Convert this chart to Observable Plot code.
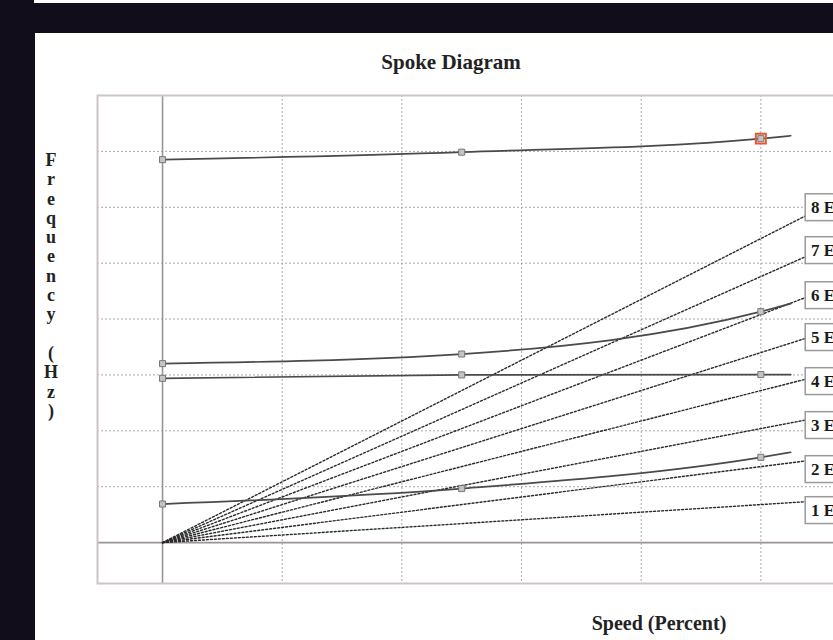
<!DOCTYPE html>
<html><head><meta charset="utf-8">
<script src="https://cdn.jsdelivr.net/npm/d3@7"></script>
<script src="https://cdn.jsdelivr.net/npm/@observablehq/plot@0.6"></script>
<style>
html,body{margin:0;padding:0;overflow:hidden;width:833px;height:640px;background:#120d1a;}
#topstrip{position:absolute;left:34px;top:0;width:799px;height:3px;background:#fff;}
#panel{position:absolute;left:35px;top:33px;width:900px;height:620px;background:#fff;overflow:hidden;}
#chart{position:absolute;left:0;top:0;}
.lbl{position:absolute;font-family:"Liberation Serif",serif;font-weight:bold;color:#222;text-align:center;white-space:nowrap;}
#title{left:0;width:902px;top:50px;height:24px;line-height:24px;font-size:21px;}
#xlabel{left:459px;width:400px;top:611px;height:24px;line-height:24px;font-size:20px;}
#ylabel{left:36px;width:30px;top:151px;font-size:18px;}
#ylabel div{height:19.3px;line-height:19.3px;}
</style>
</head><body>
<div id="topstrip"></div>
<div id="panel"><div id="chart"></div></div>
<div id="title" class="lbl">Spoke Diagram</div>
<div id="xlabel" class="lbl">Speed (Percent)</div>
<div id="ylabel" class="lbl"></div>
<script>
// ---- data ----
const speedPct = [0, 50, 100, 105];           // speed points of the mode curves
const modeA = [342.6, 349.3, 361.4, 364.0];   // Hz
const modeB = [160.1, 168.7, 206.6, 213.8];
const modeC = [147.0, 150.0, 150.3, 150.3];
const modeD = [34.5, 48.3, 76.3, 80.8];
const markerMaxSpeed = 100;                   // markers drawn at 0, 50, 100 %
const highlightMode = "A";
const highlightSpeed = 100;

const orders = [1, 2, 3, 4, 5, 6, 7, 8];
const orderHzAt100 = [34, 68, 102, 136, 170, 204, 238, 272];
const orderLabels = ["1 E", "2 E", "3 E", "4 E", "5 E", "6 E", "7 E", "8 E"];
const labelHz = [28.6, 65.3, 104.7, 144.0, 183.4, 220.9, 261.2, 299.6];
const spokeEndSpeed = 107.5;

const xGrid = [20, 40, 60, 80, 100, 120];
const yGrid = [50, 100, 150, 200, 250, 300, 350];
const yLabelText = "Frequency (Hz)";

// ---- build tables ----
const modeSeries = {A: modeA, B: modeB, C: modeC, D: modeD};
const modes = [];
for (const [name, vals] of Object.entries(modeSeries)) {
  speedPct.forEach((s, i) => modes.push({mode: name, speed: s, hz: vals[i]}));
}
const markers = modes.filter(d => d.speed <= markerMaxSpeed);
const highlight = modes.filter(d => d.mode === highlightMode && d.speed === highlightSpeed);

const spokes = [];
orders.forEach((k, i) => {
  spokes.push({order: k, speed: 0, hz: 0});
  spokes.push({order: k, speed: spokeEndSpeed, hz: orderHzAt100[i] * spokeEndSpeed / 100});
});
const labels = orders.map((k, i) => ({order: k, label: orderLabels[i], hz: labelHz[i]}));

const chart = Plot.plot({
  width: 855,
  height: 570,
  marginLeft: 62,
  marginRight: 10,
  marginTop: 62,
  marginBottom: 20,
  style: {background: "white", overflow: "visible"},
  x: {domain: [-10.87, 120], axis: null},
  y: {domain: [-36.6, 400], axis: null},
  marks: [
    Plot.ruleX(xGrid, {stroke: "#a9a9a9", strokeWidth: 1, strokeDasharray: "2,2"}),
    Plot.ruleY(yGrid, {stroke: "#a9a9a9", strokeWidth: 1, strokeDasharray: "2,2"}),
    Plot.ruleX([0], {stroke: "#9c9494", strokeWidth: 1.6}),
    Plot.ruleY([0], {stroke: "#9c9494", strokeWidth: 1.6}),
    Plot.frame({stroke: "#cdc5c5", strokeWidth: 2}),
    Plot.line(spokes, {x: "speed", y: "hz", z: "order", stroke: "#2a2a2a", strokeWidth: 1.4, strokeDasharray: "2,2"}),
    Plot.line(modes, {x: "speed", y: "hz", z: "mode", stroke: "#4a4a4a", strokeWidth: 1.7, curve: "monotone-x"}),
    Plot.dot(markers, {x: "speed", y: "hz", symbol: "square", r: 3.4, fill: "#c4c4c4", stroke: "#777", strokeWidth: 1}),
    Plot.dot(highlight, {x: "speed", y: "hz", symbol: "square", r: 5.6, fill: "none", stroke: "#e8552f", strokeWidth: 2}),
    Plot.rect(labels, {x1: () => spokeEndSpeed, x2: () => 125, y1: d => d.hz - 12, y2: d => d.hz + 12, fill: "white", stroke: "#9a9a9a", strokeWidth: 1.5}),
    Plot.text(labels, {x: () => 108.4, y: "hz", text: "label", textAnchor: "start", fontFamily: "Liberation Serif", fontWeight: "bold", fontSize: 17, fill: "#1a1a1a"})
  ]
});
document.getElementById("chart").appendChild(chart);

const yl = document.getElementById("ylabel");
for (const ch of yLabelText) {
  const d = document.createElement("div");
  d.textContent = ch === " " ? "\u00a0" : ch;
  yl.appendChild(d);
}
</script>
</body></html>
